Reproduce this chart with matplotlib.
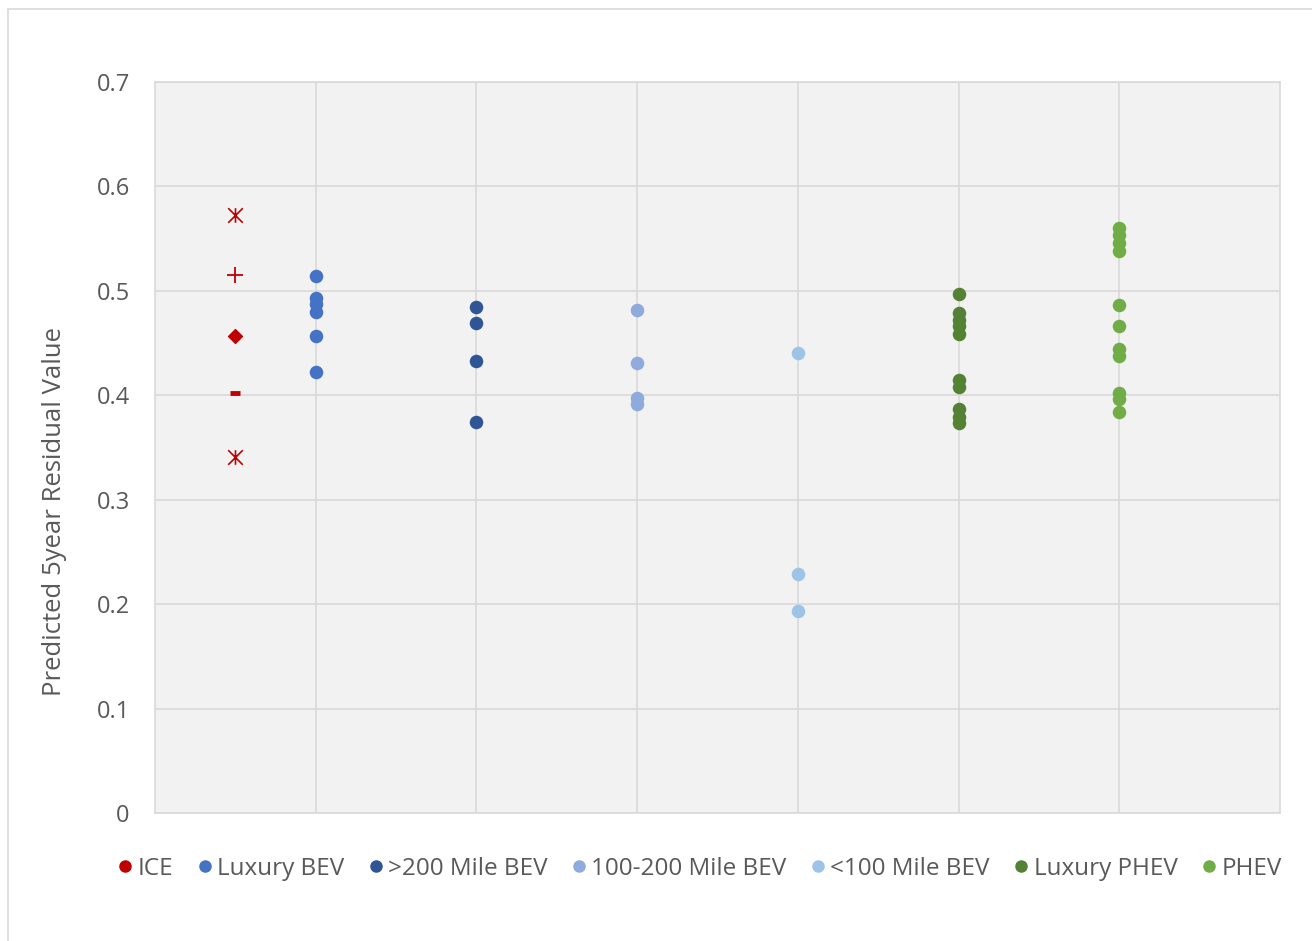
import matplotlib.pyplot as plt
from matplotlib.lines import Line2D
from matplotlib.patches import Rectangle
from matplotlib.path import Path

plt.rcParams['font.family'] = ['Open Sans', 'DejaVu Sans']

# Data
categories = ['ICE', 'Luxury BEV', '>200 Mile BEV', '100-200 Mile BEV',
              '<100 Mile BEV', 'Luxury PHEV', 'PHEV']
ice_values = [0.573, 0.515, 0.457, 0.402, 0.341]
ice_markers = ['ast', '+', 'D', '_', 'ast']
luxury_bev = [0.514, 0.493, 0.487, 0.480, 0.457, 0.422]
bev_200 = [0.484, 0.469, 0.433, 0.374]
bev_100_200 = [0.482, 0.431, 0.397, 0.392]
bev_100 = [0.440, 0.229, 0.193]
luxury_phev = [0.497, 0.479, 0.472, 0.466, 0.459, 0.415, 0.408, 0.387, 0.379, 0.373]
phev = [0.560, 0.553, 0.546, 0.538, 0.486, 0.466, 0.444, 0.438, 0.402, 0.396, 0.384]

colors = ['#C00000', '#4472C4', '#2F5597', '#8FAADC', '#9DC3E6', '#548235', '#70AD47']

# Excel-style asterisk: an X plus a vertical bar
asterisk = Path([(-1, -1), (1, 1), (-1, 1), (1, -1), (0, -1), (0, 1)],
                [Path.MOVETO, Path.LINETO, Path.MOVETO, Path.LINETO, Path.MOVETO, Path.LINETO])

fig = plt.figure(figsize=(13.12, 9.41), dpi=100)
ax = fig.add_axes([0.118, 0.136, 0.8576, 0.777])
ax.set_facecolor('#F2F2F2')

# outer chart border
fig.patches.append(Rectangle((0.006, -0.01), 1.0, 1.0, transform=fig.transFigure,
                             fill=False, edgecolor='#D9D9D9', linewidth=1.2))

# ICE points drawn half a category to the left, each with its own marker
for v, m in zip(ice_values, ice_markers):
    if m == 'D':
        ax.scatter([0.5], [v], marker=m, s=50, color=colors[0], zorder=3)
    elif m == '_':
        ax.scatter([0.5], [v], marker=m, s=45, color=colors[0], linewidths=3.5, zorder=3)
    elif m == '+':
        ax.scatter([0.5], [v], marker=m, s=120, color=colors[0], linewidths=1.3, zorder=3)
    else:
        ax.scatter([0.5], [v], marker=asterisk, s=110, color=colors[0], linewidths=1.2, zorder=3)

series = [luxury_bev, bev_200, bev_100_200, bev_100, luxury_phev, phev]
for i, vals in enumerate(series):
    ax.scatter([i + 1] * len(vals), vals, s=95, color=colors[i + 1], zorder=3, linewidths=0)

ax.set_xlim(0, 7)
ax.set_ylim(0, 0.7)
ax.set_xticks(range(1, 7))
ax.set_xticklabels([])
ax.set_yticks([0, 0.1, 0.2, 0.3, 0.4, 0.5, 0.6, 0.7])
ax.set_yticklabels(['0', '0.1', '0.2', '0.3', '0.4', '0.5', '0.6', '0.7'])
ax.tick_params(axis='both', length=0, labelsize=17, labelcolor='#595959', pad=18)
ax.grid(True, color='#D9D9D9', linewidth=1.2)
ax.set_axisbelow(True)
for s in ax.spines.values():
    s.set_color('#D9D9D9')
    s.set_linewidth(1.2)

ax.set_ylabel('Predicted 5year Residual Value', fontsize=18.5, color='#595959')
ax.yaxis.set_label_coords(-0.078, 0.413)

handles = [Line2D([], [], marker='o', linestyle='', markersize=8, color=c) for c in colors]
fig.legend(handles, categories, loc='center', bbox_to_anchor=(0.532, 0.077), ncol=7,
           frameon=False, fontsize=17.5, labelcolor='#595959', handletextpad=0.05,
           columnspacing=0.85, handlelength=0.9)

plt.savefig('out.png', dpi=100)
